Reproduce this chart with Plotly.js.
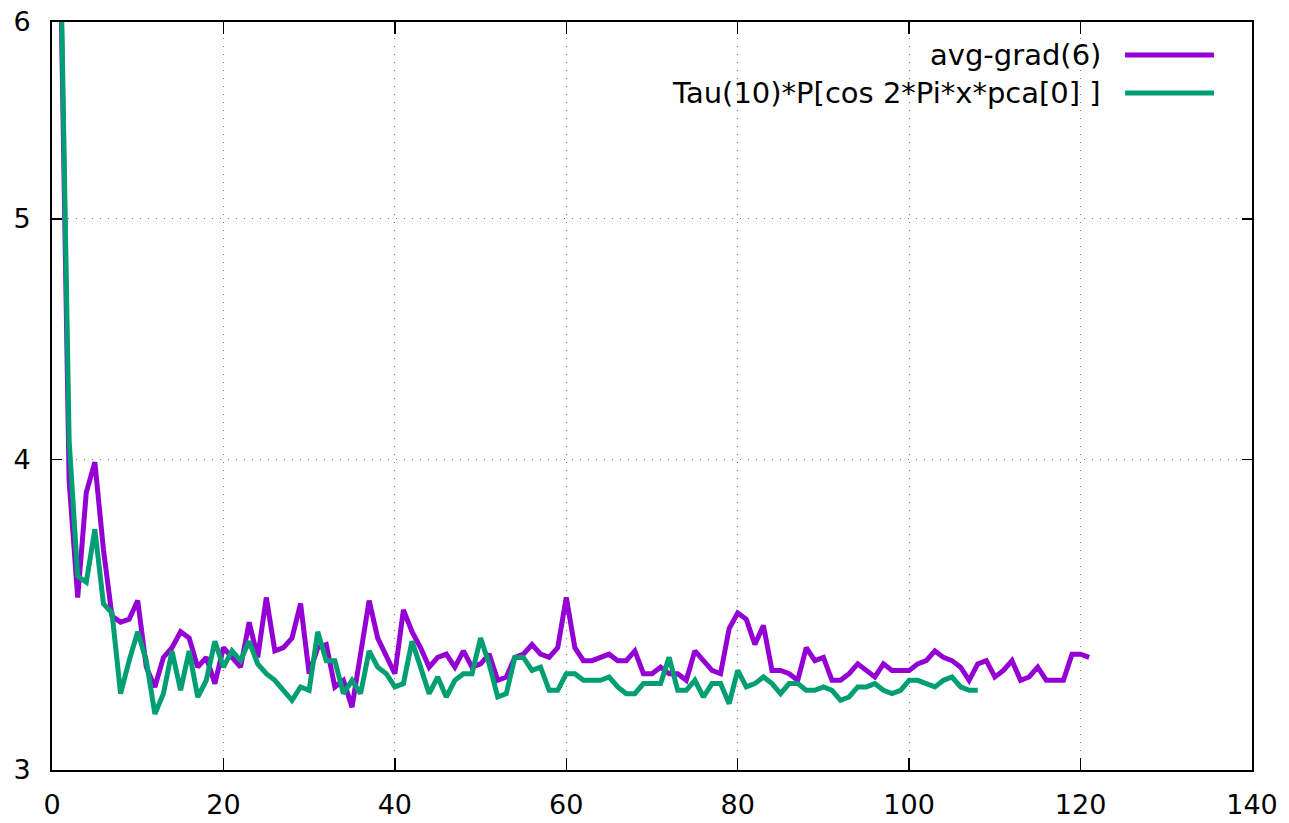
<!DOCTYPE html>
<html>
<head>
<meta charset="utf-8">
<script src="https://cdn.plot.ly/plotly-3.0.1.min.js"></script>
<style>html,body{margin:0;padding:0;background:#fff;}#chart{width:1289px;height:823px;}</style>
</head>
<body>
<div id="chart"></div>
<script>
// Series names
const seriesNames = ["avg-grad(6)", "Tau(10)*P[cos 2*Pi*x*pca[0] ]"];
const seriesColors = ["#9400D3", "#009E73"];

// avg-grad(6), iterations 1..121
const avgGrad = [
  6.3, 3.92, 3.52, 3.88, 3.99, 3.68, 3.46, 3.44, 3.45, 3.51,
  3.30, 3.24, 3.33, 3.36, 3.41, 3.39, 3.30, 3.33, 3.25, 3.36,
  3.33, 3.30, 3.44, 3.33, 3.52, 3.35, 3.36, 3.39, 3.50, 3.28,
  3.36, 3.37, 3.24, 3.26, 3.18, 3.33, 3.51, 3.39, 3.33, 3.28,
  3.48, 3.41, 3.36, 3.30, 3.33, 3.34, 3.30, 3.35, 3.30, 3.31,
  3.34, 3.26, 3.27, 3.33, 3.34, 3.37, 3.34, 3.33, 3.36, 3.52,
  3.36, 3.32, 3.32, 3.33, 3.34, 3.32, 3.32, 3.35, 3.28, 3.28,
  3.30, 3.28, 3.28, 3.26, 3.35, 3.32, 3.29, 3.28, 3.42, 3.47,
  3.45, 3.37, 3.43, 3.29, 3.29, 3.28, 3.26, 3.36, 3.32, 3.33,
  3.26, 3.26, 3.28, 3.31, 3.29, 3.27, 3.31, 3.29, 3.29, 3.29,
  3.31, 3.32, 3.35, 3.33, 3.32, 3.30, 3.26, 3.31, 3.32, 3.27,
  3.29, 3.32, 3.26, 3.27, 3.30, 3.26, 3.26, 3.26, 3.34, 3.34,
  3.33
];

// Tau(10)*P[...], iterations 1..108
const tauP = [
  6.4, 4.07, 3.59, 3.57, 3.75, 3.50, 3.47, 3.22, 3.32, 3.41,
  3.32, 3.16, 3.22, 3.35, 3.23, 3.35, 3.21, 3.26, 3.38, 3.30,
  3.35, 3.32, 3.38, 3.31, 3.28, 3.26, 3.23, 3.20, 3.24, 3.23,
  3.41, 3.32, 3.32, 3.22, 3.26, 3.22, 3.35, 3.30, 3.28, 3.24,
  3.25, 3.38, 3.30, 3.22, 3.27, 3.21, 3.26, 3.28, 3.28, 3.39,
  3.31, 3.21, 3.22, 3.33, 3.33, 3.29, 3.30, 3.23, 3.23, 3.28,
  3.28, 3.26, 3.26, 3.26, 3.27, 3.24, 3.22, 3.22, 3.25, 3.25,
  3.25, 3.33, 3.23, 3.23, 3.26, 3.21, 3.25, 3.25, 3.19, 3.29,
  3.24, 3.25, 3.27, 3.25, 3.22, 3.25, 3.25, 3.23, 3.23, 3.24,
  3.23, 3.20, 3.21, 3.24, 3.24, 3.25, 3.23, 3.22, 3.23, 3.26,
  3.26, 3.25, 3.24, 3.26, 3.27, 3.24, 3.23, 3.23
];

const xTickVals = [0, 20, 40, 60, 80, 100, 120, 140];
const yTickVals = [3, 4, 5, 6];
const yTickText = ["3", "4", "5", "6"];

const iter = arr => arr.map((_, i) => i + 1);

const FONT = "DejaVu Sans";
const FS = 27;
const LFS = 29;
const LW = 5;

const traces = [
  {x: iter(avgGrad), y: avgGrad, type: "scatter", mode: "lines", name: seriesNames[0],
   line: {color: seriesColors[0], width: LW, shape: "linear"}},
  {x: iter(tauP), y: tauP, type: "scatter", mode: "lines", name: seriesNames[1],
   line: {color: seriesColors[1], width: LW, shape: "linear"}}
];

// legend drawn gnuplot-style: text right-aligned, sample line to the right
const legY = [0.9559, 0.9051];
const annotations = seriesNames.map((n, i) => ({
  xref: "paper", yref: "paper", x: 0.8758, y: legY[i], xanchor: "right", yanchor: "middle",
  text: n, showarrow: false, font: {family: FONT, size: LFS, color: "#000"}
}));
const shapes = [
  {type: "rect", xref: "paper", yref: "paper", x0: 0.505, x1: 0.985, y0: 0.874, y1: 0.981,
   fillcolor: "#fff", line: {width: 0}, layer: "between"}
].concat(seriesColors.map((c, i) => ({
  type: "line", xref: "paper", yref: "paper", x0: 0.8942, x1: 0.9683, y0: legY[i], y1: legY[i],
  line: {color: c, width: LW}, layer: "above"
})));

const layout = {
  width: 1289, height: 823,
  margin: {l: 52, r: 37, t: 22, b: 53, pad: 0},
  paper_bgcolor: "#fff", plot_bgcolor: "#fff",
  showlegend: false,
  font: {family: FONT, size: FS, color: "#000"},
  xaxis: {
    range: [0, 140], tickvals: xTickVals, ticktext: xTickVals.map(String),
    ticks: "inside", ticklen: 12, tickwidth: 1.5, tickcolor: "#000",
    showline: true, linecolor: "#000", linewidth: 2, mirror: "allticks",
    showgrid: true, gridcolor: "#777", griddash: "1px,7px", gridwidth: 1.2,
    zeroline: false, ticklabelstandoff: 10,
    tickfont: {family: FONT, size: FS, color: "#000"}
  },
  yaxis: {
    type: "log", range: [Math.log10(3), Math.log10(6)],
    tickvals: yTickVals, ticktext: yTickText,
    ticks: "inside", ticklen: 10, tickwidth: 1.5, tickcolor: "#000",
    showline: true, linecolor: "#000", linewidth: 2, mirror: "allticks",
    showgrid: true, gridcolor: "#777", griddash: "1px,7px", gridwidth: 1.2,
    zeroline: false, ticklabelstandoff: 14,
    tickfont: {family: FONT, size: FS, color: "#000"}
  },
  annotations: annotations,
  shapes: shapes
};

Plotly.newPlot("chart", traces, layout, {staticPlot: true, displayModeBar: false});
</script>
</body>
</html>
